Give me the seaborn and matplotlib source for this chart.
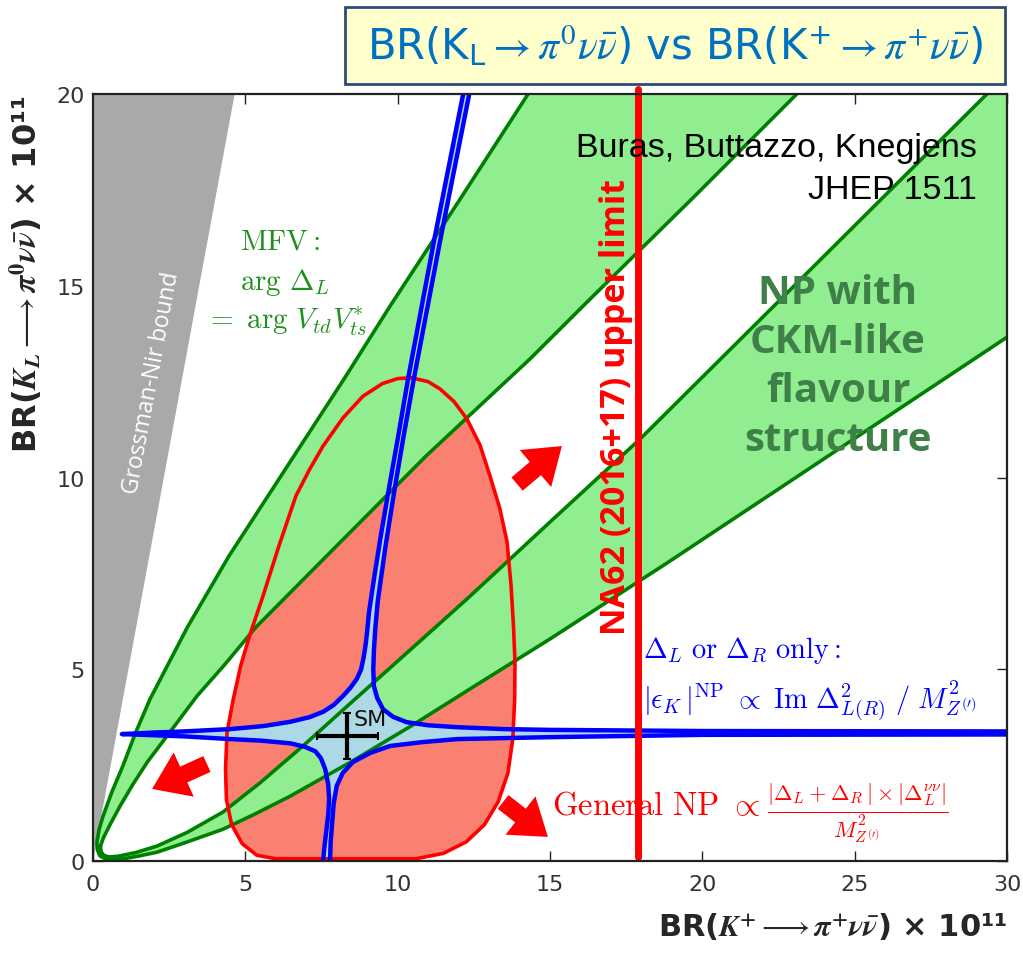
import matplotlib
matplotlib.use("Agg")
import matplotlib.pyplot as plt
import seaborn as sns
from matplotlib.patches import Rectangle

# ---------------- data ----------------
x_lim = [0, 30]
y_lim = [0, 20]
x_ticks = [0, 5, 10, 15, 20, 25, 30]
y_ticks = [0, 5, 10, 15, 20]

# Grossman-Nir excluded wedge
gn_x = [0.0, 4.65, 0.0]
gn_y = [0.0, 20.0, 20.0]

# outer boundary of the green bands (upper branch -> apex -> lower branch)
outer_x = [14.28, 12.0, 9.75, 8.24, 6.3, 4.46, 3.1, 1.87, 1.4, 0.98, 0.62, 0.33, 0.2, 0.13, 0.14, 0.22, 0.4,
           0.7, 1.0, 1.5, 2.1, 3.1, 4.27, 5.3, 6.47, 8.5, 10.5, 12.5, 15.0, 18.8, 22.65, 30.0]
outer_y = [20.0, 17.2, 14.47, 12.57, 10.2, 7.95, 6.1, 4.22, 3.35, 2.48, 1.8, 1.17, 0.82, 0.5, 0.3, 0.14, 0.06,
           0.04, 0.06, 0.13, 0.23, 0.5, 0.83, 1.22, 1.69, 2.6, 3.55, 4.55, 5.79, 7.75, 9.78, 13.66]
# inner boundary (upper branch -> apex -> lower branch)
inner_x = [23.1, 19.7, 16.31, 14.34, 12.6, 10.93, 8.1, 5.35, 4.3, 3.41, 2.43, 1.8, 1.31, 0.9, 0.56, 0.35, 0.25,
           0.26, 0.35, 0.5, 0.79, 1.4, 2.1, 3.1, 4.27, 5.5, 6.89, 8.5, 10.08, 12.27, 15.0, 17.95, 22.32, 29.34]
inner_y = [20.0, 17.3, 14.65, 13.09, 11.8, 10.56, 8.3, 6.10, 5.1, 4.3, 3.26, 2.6, 2.0, 1.45, 0.95, 0.62, 0.4,
           0.25, 0.15, 0.11, 0.12, 0.22, 0.39, 0.75, 1.28, 2.05, 3.0, 4.15, 5.27, 6.83, 8.84, 11.0, 14.45, 20.0]

# General NP region (red)
np_x = [10.45, 11.0, 11.39, 11.85, 12.27, 12.7, 13.03, 13.35, 13.59, 13.72, 13.8, 13.85, 13.84, 13.78, 13.62,
        13.3, 12.85, 12.25, 11.5, 10.6, 6.0, 5.38, 4.9, 4.55, 4.38, 4.35, 4.4, 4.6, 4.85, 5.15, 5.58, 6.1,
        6.66, 7.1, 7.55, 8.2, 8.86, 9.5, 10.0, 10.45]
np_y = [12.6, 12.5, 12.31, 11.98, 11.53, 10.85, 10.04, 9.2, 8.32, 7.2, 6.13, 5.2, 4.22, 3.2, 2.3,
        1.55, 0.95, 0.5, 0.2, 0.06, 0.06, 0.15, 0.45, 0.95, 1.6, 2.4, 3.36, 4.2, 5.1, 5.9, 6.91, 8.21,
        9.52, 10.2, 10.82, 11.55, 12.12, 12.45, 12.58, 12.6]

# Delta_L or Delta_R only (blue cross): four branches
ul_x = [0.95, 2.0, 3.0, 4.5, 5.6, 6.47, 7.1, 7.55, 7.9, 8.2, 8.45, 8.66, 8.8, 8.88, 8.95, 9.0, 9.06, 9.25,
        9.45, 9.71, 10.0, 10.34, 11.2, 12.15]
ul_y = [3.31, 3.35, 3.38, 3.44, 3.52, 3.63, 3.75, 3.89, 4.07, 4.3, 4.52, 4.75, 5.0, 5.3, 5.65, 6.0, 6.5, 7.5,
        8.5, 9.7, 11.0, 12.57, 16.2, 20.0]
ur_x = [12.35, 11.4, 10.53, 10.2, 9.9, 9.6, 9.35, 9.27, 9.22, 9.2, 9.22, 9.33, 9.52, 9.85, 10.3, 11.0, 11.95,
        13.5, 15.0, 20.0, 30.0]
ur_y = [20.0, 16.2, 12.57, 11.1, 9.7, 8.2, 6.8, 6.1, 5.5, 5.0, 4.56, 4.25, 3.96, 3.76, 3.62, 3.54, 3.49,
        3.44, 3.42, 3.39, 3.38]
lr_x = [30.0, 20.0, 15.0, 11.95, 10.8, 9.75, 9.1, 8.53, 8.2, 8.0, 7.9, 7.85, 7.8, 7.78]
lr_y = [3.30, 3.29, 3.23, 3.18, 3.1, 3.0, 2.82, 2.58, 2.3, 1.96, 1.5, 1.0, 0.5, 0.0]
ll_x = [7.55, 7.6, 7.66, 7.72, 7.75, 7.72, 7.62, 7.48, 7.3, 6.95, 6.47, 5.5, 4.5, 3.0, 2.0, 0.95]
ll_y = [0.0, 0.4, 0.8, 1.2, 1.62, 2.0, 2.4, 2.68, 2.86, 2.98, 3.07, 3.14, 3.18, 3.25, 3.28, 3.31]

# NA62 upper limit and SM point
na62_x = 17.9
sm_x, sm_y = 8.34, 3.26
sm_xerr, sm_yerr = 1.0, 0.6

# red arrows (tail -> tip)
arrows = [((13.92, 9.83), (15.39, 10.82)),
          ((3.74, 2.53), (1.94, 1.88)),
          ((13.46, 1.54), (14.93, 0.63))]

# ---------------- figure ----------------
sns.set_theme(style="ticks")
plt.rcParams["font.family"] = ["DejaVu Sans"]
plt.rcParams["mathtext.fontset"] = "cm"

fig = plt.figure(figsize=(10.23, 9.54), dpi=100)
ax = fig.add_axes([0.0909, 0.0964, 0.8935, 0.804])

ax.fill(gn_x, gn_y, color="#a9a9a9", lw=0, zorder=1)
ax.fill(np_x, np_y, color="salmon", lw=0, zorder=2)
band_x = outer_x + [x_lim[1]] + inner_x[::-1]
band_y = outer_y + [y_lim[1]] + inner_y[::-1]
ax.fill(band_x, band_y, color="#90ee90", lw=0, zorder=3)
cross_x = ul_x + ur_x + lr_x + ll_x
cross_y = ul_y + ur_y + lr_y + ll_y
ax.fill(cross_x, cross_y, color="lightblue", lw=0, zorder=4)

line_kw = dict(sort=False, estimator=None, ax=ax)
sns.lineplot(x=outer_x, y=outer_y, color="green", lw=2.6, zorder=5, **line_kw)
sns.lineplot(x=inner_x, y=inner_y, color="green", lw=2.6, zorder=5, **line_kw)
sns.lineplot(x=np_x, y=np_y, color="red", lw=2.6, zorder=6, **line_kw)
sns.lineplot(x=ll_x + ul_x[1:], y=ll_y + ul_y[1:], color="blue", lw=3.2, zorder=7, **line_kw)
sns.lineplot(x=ur_x, y=ur_y, color="blue", lw=3.2, zorder=7, **line_kw)
sns.lineplot(x=lr_x, y=lr_y, color="blue", lw=3.2, zorder=7, **line_kw)

ax.axvline(na62_x, ymin=0.005, ymax=1.006, color="red", lw=5, zorder=8, clip_on=False)

ax.errorbar(sm_x, sm_y, xerr=sm_xerr, yerr=sm_yerr, fmt="none", ecolor="black",
            elinewidth=3, capsize=3, capthick=1.5, zorder=9)
ax.text(sm_x + 0.2, sm_y + 0.17, "SM", fontsize=16, color="#111111", ha="left", va="bottom", zorder=10)

for tail, tip in arrows:
    ax.annotate("", xy=tip, xytext=tail,
                arrowprops=dict(arrowstyle="simple,head_width=1.4,head_length=1.0,tail_width=0.5",
                                color="red", lw=0, shrinkA=0, shrinkB=0, mutation_scale=25),
                zorder=10)

ax.text(1.94, 12.5, "Grossman-Nir bound", color="white", fontsize=16.5, family="Open Sans",
        rotation=79.5, rotation_mode="anchor", ha="center", va="center", zorder=2)

mfv_c = "#1f8f1f"
ax.text(4.82, 15.96, r"$\mathrm{MFV}:$", color=mfv_c, fontsize=21, ha="left", va="baseline", zorder=10)
ax.text(4.82, 14.92, r"$\mathrm{arg}\ \Delta_L$", color=mfv_c, fontsize=21, ha="left", va="baseline", zorder=10)
ax.text(3.68, 13.92, r"$=\ \mathrm{arg}\ V_{td}V_{ts}^{*}$", color=mfv_c, fontsize=21, ha="left",
        va="baseline", zorder=10)

ax.text(29.0, 19.0, "Buras, Buttazzo, Knegjens\nJHEP 1511", color="black", fontsize=24.5,
        family="Liberation Sans", ha="right", va="top", linespacing=1.45, zorder=10)

ax.text(24.45, 12.9, "NP with\nCKM-like\nflavour\nstructure", color="#3f8048", fontsize=29,
        family="Open Sans", fontweight="bold", ha="center", va="center", linespacing=1.33, zorder=10)

ax.text(17.15, 11.86, "NA62 (2016+17) upper limit", color="red", fontsize=24.5, family="Open Sans",
        fontweight="bold", rotation=90, ha="center", va="center", zorder=10)

ax.text(18.05, 5.32, r"$\Delta_L\ \mathrm{or}\ \Delta_R\ \mathrm{only}:$", color="blue", fontsize=20.5,
        ha="left", va="baseline", zorder=10)
ax.text(18.05, 3.96, r"$|\epsilon_K\,|^{\mathrm{NP}}\ \propto\ \mathrm{Im}\ \Delta^2_{L(R)}\ /\ M^2_{Z^{(\prime)}}$",
        color="blue", fontsize=20.5, ha="left", va="baseline", zorder=10)
ax.text(15.06, 1.23, r"$\mathrm{General\ NP}\ \propto$", color="red", fontsize=23.5,
        ha="left", va="baseline", zorder=7.5)
ax.text(22.12, 1.25, r"$\frac{|\Delta_L+\Delta_R\,|\times|\Delta_L^{\nu\nu}|}{M^2_{Z^{(\prime)}}}$",
        color="red", fontsize=23, ha="left", va="center", zorder=7.5)

ax.set_xlim(x_lim)
ax.set_ylim(y_lim)
ax.set_xticks(x_ticks)
ax.set_yticks(y_ticks)
ax.tick_params(direction="in", top=True, right=True, length=7, width=1, labelsize=16,
               labelcolor="#333333", color="#222222")
ax.tick_params(axis="x", pad=9)
ax.tick_params(axis="y", pad=6)
for s in ax.spines.values():
    s.set_linewidth(1.6)
    s.set_color("#222222")
    s.set_zorder(20)

ax.set_xlabel(r"BR($\mathbfit{K}^{\mathbf{+}}\longrightarrow\mathbfit{\pi}^{\mathbf{+}}\mathbfit{\nu}\bar{\mathbfit{\nu}}$) × 10¹¹",
              fontsize=22, fontweight="bold", loc="right", labelpad=12, math_fontfamily="stix")
ax.set_ylabel(r"BR($\mathbfit{K}_{\mathbfit{L}}\longrightarrow\mathbfit{\pi}^{\mathbf{0}}\mathbfit{\nu}\bar{\mathbfit{\nu}}$) × 10¹¹",
              fontsize=23, fontweight="bold", loc="top", labelpad=8, math_fontfamily="stix")

fig.patches.append(Rectangle((0.337, 0.911), 0.645, 0.0807, transform=fig.transFigure,
                             facecolor="#ffffcc", edgecolor="#2e4a7a", lw=2, zorder=0))
fig.text(0.66, 0.951,
         r"BR(K$_{\mathregular{L}}$$\rightarrow\pi^{0}\nu\bar{\nu}$) vs BR(K$^{\mathregular{+}}$$\rightarrow\pi^{+}\nu\bar{\nu}$)",
         color="#0070c0", fontsize=30, ha="center", va="center", math_fontfamily="stix")

fig.savefig("out.png", dpi=100, facecolor="white")
